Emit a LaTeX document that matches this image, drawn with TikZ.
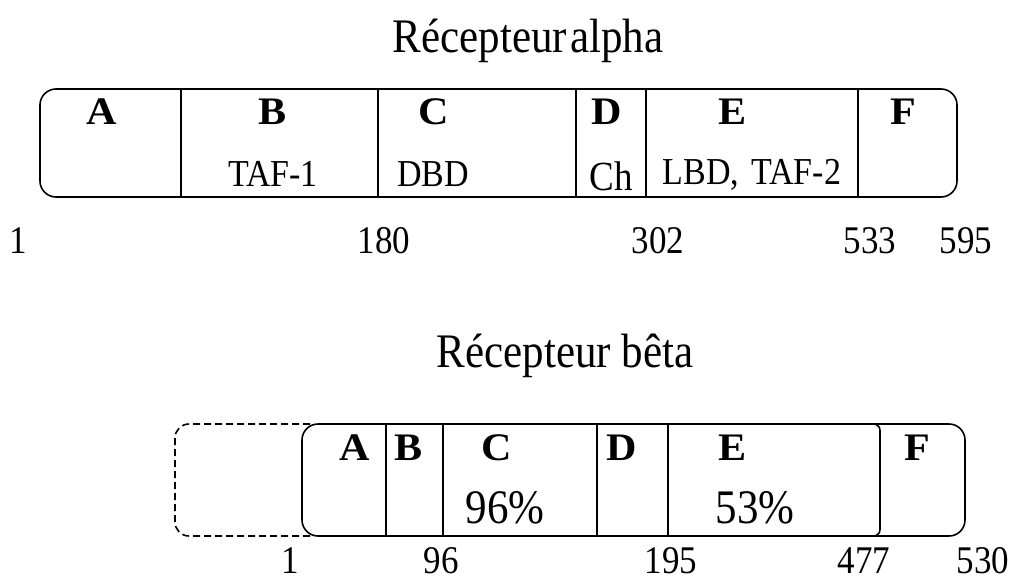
\documentclass[tikz,border=0pt]{standalone}
\usepackage{fontspec}
\setmainfont{Liberation Serif}
% the face used here is set a little taller (and the bold letters wider)
\newcommand\tallset[1]{\scalebox{1}[1.12]{#1}}
\newcommand\domletter[1]{\scalebox{1.08}[1]{#1}}
\begin{document}
\begin{tikzpicture}[x=1pt,y=-1pt,
  boxline/.style={line width=1.6pt,line join=round},
  headtext/.style={anchor=base,inner sep=0pt,font=\fontsize{43}{43}\selectfont},
  dletter/.style={anchor=base,inner sep=0pt,font=\fontsize{39}{39}\selectfont\bfseries},
  roletext/.style={anchor=base,inner sep=0pt,font=\fontsize{34}{34}\selectfont},
  pcttext/.style={anchor=base,inner sep=0pt,font=\fontsize{43}{43}\selectfont},
  numtext/.style={anchor=base,inner sep=0pt,font=\fontsize{35}{35}\selectfont}]
\useasboundingbox (0,0) rectangle (1016,581);

% ---- Receptor alpha ----
\node[headtext] (ta) at (528,52) {\tallset{Récepteur\hspace{3pt}alpha}};
\draw[boxline,rounded corners=16pt] (40,89) rectangle (957,197);
\foreach \x/\n in {181/a1,378/a2,576/a3,646/a4,858/a5}
  \draw[boxline] (\x,89) coordinate (\n t) -- (\x,197) coordinate (\n b);

\node[dletter] (aA) at (102,124) {\domletter{A}};
\node[dletter] (aB) at (273,124) {\domletter{B}};
\node[dletter] (aC) at (434,124) {\domletter{C}};
\node[dletter] (aD) at (607,124) {\domletter{D}};
\node[dletter] (aE) at (733,124) {\domletter{E}};
\node[dletter] (aF) at (903,124) {\domletter{F}};
\node[roletext] (aB2) at (273,186) {\tallset{TAF-1}};
\node[roletext] (aC2) at (433,186) {\tallset{DBD}};
\node[roletext,font=\fontsize{37}{37}\selectfont] (aD2) at (611,190) {\tallset{Ch}};
\node[roletext] (aE2) at (752,184) {\tallset{LBD,\hspace{12pt}TAF-2}};

\node[numtext] (n1) at (18,253) {\tallset{1}};
\node[numtext] (n180) at (384,253) {\tallset{180}};
\node[numtext] (n302) at (658,253) {\tallset{302}};
\node[numtext] (n533) at (870,253) {\tallset{533}};
\node[numtext] (n595) at (966,253) {\tallset{595}};

% ---- Receptor beta ----
\node[headtext] (tb) at (565,367) {\tallset{Récepteur bêta}};
\draw[boxline,dash pattern=on 7pt off 4pt,rounded corners=14pt]
  (310,424) -- (175,424) -- (175,536) -- (310,536);
\draw[boxline,rounded corners=16pt] (302,424) rectangle (965,536);
\foreach \x/\n in {386/b1,443/b2,597/b3,668/b4}
  \draw[boxline] (\x,424) coordinate (\n t) -- (\x,536) coordinate (\n b);
% right end of the E domain, with its own rounded corners
\draw[boxline] (875,424) .. controls (880,427) .. (880,434) -- (880,526)
  .. controls (880,533) .. (875,536);

\node[dletter] (bA) at (355,460) {\domletter{A}};
\node[dletter] (bB) at (409,460) {\domletter{B}};
\node[dletter] (bC) at (497,460) {\domletter{C}};
\node[dletter] (bD) at (622,460) {\domletter{D}};
\node[dletter] (bE) at (733,460) {\domletter{E}};
\node[dletter] (bF) at (917,460) {\domletter{F}};
\node[pcttext] (bC2) at (505,523) {\tallset{96\%}};
\node[pcttext] (bE2) at (755,523) {\tallset{53\%}};

\node[numtext] (m1) at (290,573) {\tallset{1}};
\node[numtext] (m96) at (441,573) {\tallset{96}};
\node[numtext] (m195) at (671,573) {\tallset{195}};
\node[numtext] (m477) at (864,573) {\tallset{477}};
\node[numtext] (m530) at (983,573) {\tallset{530}};
\end{tikzpicture}
\end{document}
